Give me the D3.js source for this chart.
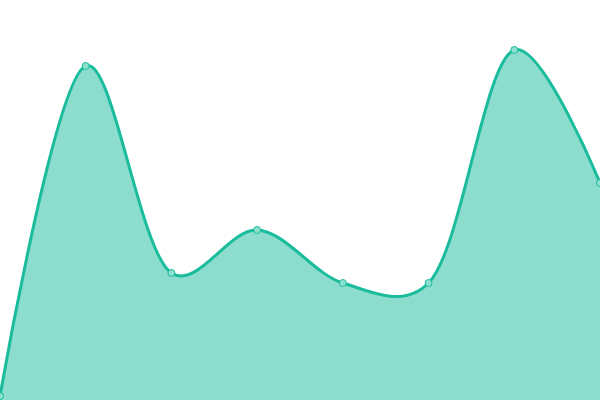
<!DOCTYPE html>
<html>
<head>
<meta charset="utf-8">
<script src="https://cdn.jsdelivr.net/npm/d3@7"></script>
<style>
	body { margin: 0; background: #fff; }
	svg { display: block; }
</style>
</head>
<body>
<svg id="chart"></svg>
<script>
// values
const labels = ["A", "B", "C", "D", "E", "F", "G", "H"];
const values = [4, 334, 127, 170, 117, 117, 350, 217];

const width = 600,
	height = 400;

const svg = d3
	.select("#chart")
	.attr("width", width)
	.attr("height", height);

const data = labels.map((l, i) => ({ label: l, value: values[i] }));

const xScale = d3
	.scalePoint()
	.domain(labels)
	.range([0, width]);

const yScale = d3.scaleLinear().domain([0, 400]).range([height, 0]);

const curve = d3.curveCatmullRom.alpha(0.25);

const area = d3
	.area()
	.x((d) => xScale(d.label))
	.y0(height)
	.y1((d) => yScale(d.value))
	.curve(curve);

const line = d3
	.line()
	.x((d) => xScale(d.label))
	.y((d) => yScale(d.value))
	.curve(curve);

svg.append("path")
	.datum(data)
	.attr("d", area)
	.style("fill", "#1abc9c")
	.style("fill-opacity", 0.5);

svg.append("path")
	.datum(data)
	.attr("d", line)
	.style("fill", "none")
	.style("stroke", "#1abc9c")
	.style("stroke-width", "3px");

svg.selectAll("circle")
	.data(data)
	.join("circle")
	.attr("cx", (d) => xScale(d.label))
	.attr("cy", (d) => yScale(d.value))
	.attr("r", 3.5)
	.style("fill", "#8de0cf")
	.style("stroke", "#1abc9c")
	.style("stroke-width", "1px");
</script>
</body>
</html>
